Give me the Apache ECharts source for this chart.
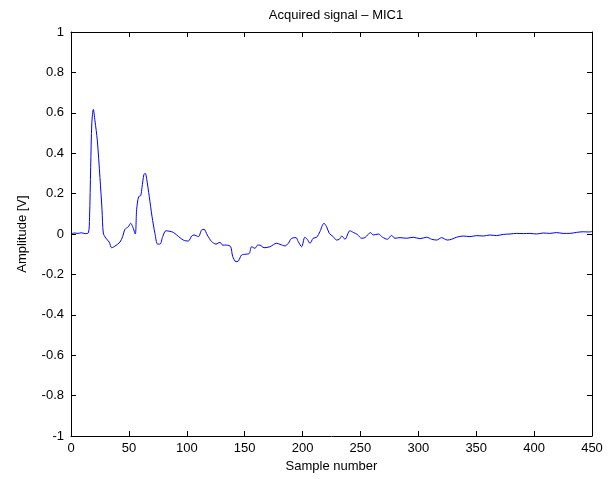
<!DOCTYPE html>
<html>
<head>
<meta charset="utf-8">
<script src="https://cdn.jsdelivr.net/npm/echarts@6/dist/echarts.min.js"></script>
<style>html,body{margin:0;padding:0;background:#fff}#c{width:616px;height:479px}</style>
</head>
<body>
<div id="c"></div>
<script>
var samples = [0,3,6,9,12,15,16,17,18,19.3,20.7,22.7,25,26.8,27.9,30,33,35.1,38,42.3,44.6,46.6,49.5,51.5,53.3,55.5,56.7,58.4,60.2,61.3,63,64.2,65.3,67.6,70,72.5,74.8,76.9,79.2,82,85.5,88.4,91.3,97,101.3,104.2,106.2,110,112.8,114.9,117.7,121.5,125.2,128.7,131,134.5,137.9,139.6,142.5,144.5,147.4,151.1,154,156,158.9,161.2,163.2,166.7,171.8,177.6,180.5,184.8,187.7,190.6,194.3,196.3,199.2,202,204,206.4,209.2,212.2,215,218.5,220.8,223.1,226.5,229.4,231.7,234,236.6,240.9,243.8,247.2,251,253.9,258.8,261,265.4,269.1,273.2,276.9,279.8,284.1,289.9,295.6,301.4,307.2,311.5,315.8,320.1,325,328.8,333,338.8,344.6,350.3,356.1,361.8,367.6,373.3,379.1,384.9,390.6,396.4,402.1,407.9,413.6,419.4,425.1,430.9,436.7,442.4,446.7,450];
var amplitude = [0.0,0.005,0.003,0.006,0.002,0.006,0.08,0.33,0.55,0.617,0.56,0.465,0.28,0.12,0.005,-0.02,-0.04,-0.068,-0.06,-0.04,-0.013,0.023,0.036,0.053,0.036,0.0,0.12,0.185,0.19,0.23,0.295,0.30,0.275,0.185,0.086,0.003,-0.05,-0.05,-0.013,0.016,0.013,0.008,-0.005,-0.03,-0.035,-0.01,-0.005,-0.013,0.02,0.023,-0.005,-0.038,-0.05,-0.041,-0.055,-0.055,-0.063,-0.11,-0.137,-0.134,-0.104,-0.1,-0.096,-0.063,-0.071,-0.055,-0.055,-0.068,-0.063,-0.046,-0.051,-0.059,-0.046,-0.021,-0.018,-0.038,-0.063,-0.016,-0.026,-0.046,-0.021,-0.016,0.012,0.053,0.036,0.003,-0.013,-0.03,-0.026,-0.01,-0.026,0.016,0.008,-0.002,-0.021,-0.018,0.007,-0.005,0.0,-0.016,-0.026,-0.007,-0.021,-0.018,-0.021,-0.016,-0.023,-0.016,-0.026,-0.03,-0.018,-0.03,-0.026,-0.016,-0.01,-0.013,-0.008,-0.01,-0.005,-0.008,-0.002,0.0,0.003,0.002,0.003,0.0,0.005,0.003,0.007,0.003,0.003,0.008,0.011,0.01,0.012];
var xTicks = [0,50,100,150,200,250,300,350,400,450];
var yTicks = [-1,-0.8,-0.6,-0.4,-0.2,0,0.2,0.4,0.6,0.8,1];

var data = samples.map(function(s,i){return [s, amplitude[i]];});
var font = 'Liberation Sans, Arial, sans-serif';
var chart = echarts.init(document.getElementById('c'), null, {renderer:'canvas'});
var tickLbl = function(v){ return String(Number(v.toFixed(1))); };
chart.setOption({
  animation:false,
  backgroundColor:'#fff',
  title:{text:'Acquired signal \u2013 MIC1', left:331, top:4, textAlign:'center',
    textStyle:{fontFamily:font, fontSize:13, fontWeight:'normal', color:'#000'}},
  grid:{left:71, right:24, top:32, bottom:43, show:false},
  xAxis:[{type:'value', min:xTicks[0], max:xTicks[xTicks.length-1], interval:50,
    name:'Sample number', nameLocation:'middle', nameGap:24,
    nameTextStyle:{fontFamily:font, fontSize:13, color:'#000'},
    axisLine:{onZero:false, lineStyle:{color:'#000', width:1}},
    axisTick:{inside:true, length:5, lineStyle:{color:'#000'}},
    axisLabel:{fontFamily:font, fontSize:13, color:'#000', margin:6},
    splitLine:{show:false}},
   {type:'value', position:'top', min:0, max:450, interval:50,
    axisLine:{show:true, onZero:false, lineStyle:{color:'#000', width:1}},
    axisTick:{inside:true, length:5, lineStyle:{color:'#000'}},
    axisLabel:{show:false}, splitLine:{show:false}}],
  yAxis:[{type:'value', min:yTicks[0], max:yTicks[yTicks.length-1], interval:0.2,
    name:'Amplitude [V]', nameLocation:'middle', nameGap:42,
    nameTextStyle:{fontFamily:font, fontSize:13, color:'#000'},
    axisLine:{show:true, onZero:false, lineStyle:{color:'#000', width:1}},
    axisTick:{show:true, inside:true, length:5, lineStyle:{color:'#000'}},
    axisLabel:{fontFamily:font, fontSize:13, color:'#000', margin:7, formatter:tickLbl},
    splitLine:{show:false}},
   {type:'value', position:'right', min:-1, max:1, interval:0.2,
    axisLine:{show:true, onZero:false, lineStyle:{color:'#000', width:1}},
    axisTick:{show:true, inside:true, length:5, lineStyle:{color:'#000'}},
    axisLabel:{show:false}, splitLine:{show:false}}],
  series:[{type:'line', data:data, showSymbol:false, symbol:'none', smooth:0.3,
    lineStyle:{color:'#0000ff', width:1}, xAxisIndex:0, yAxisIndex:0}]
});
</script>
</body>
</html>
